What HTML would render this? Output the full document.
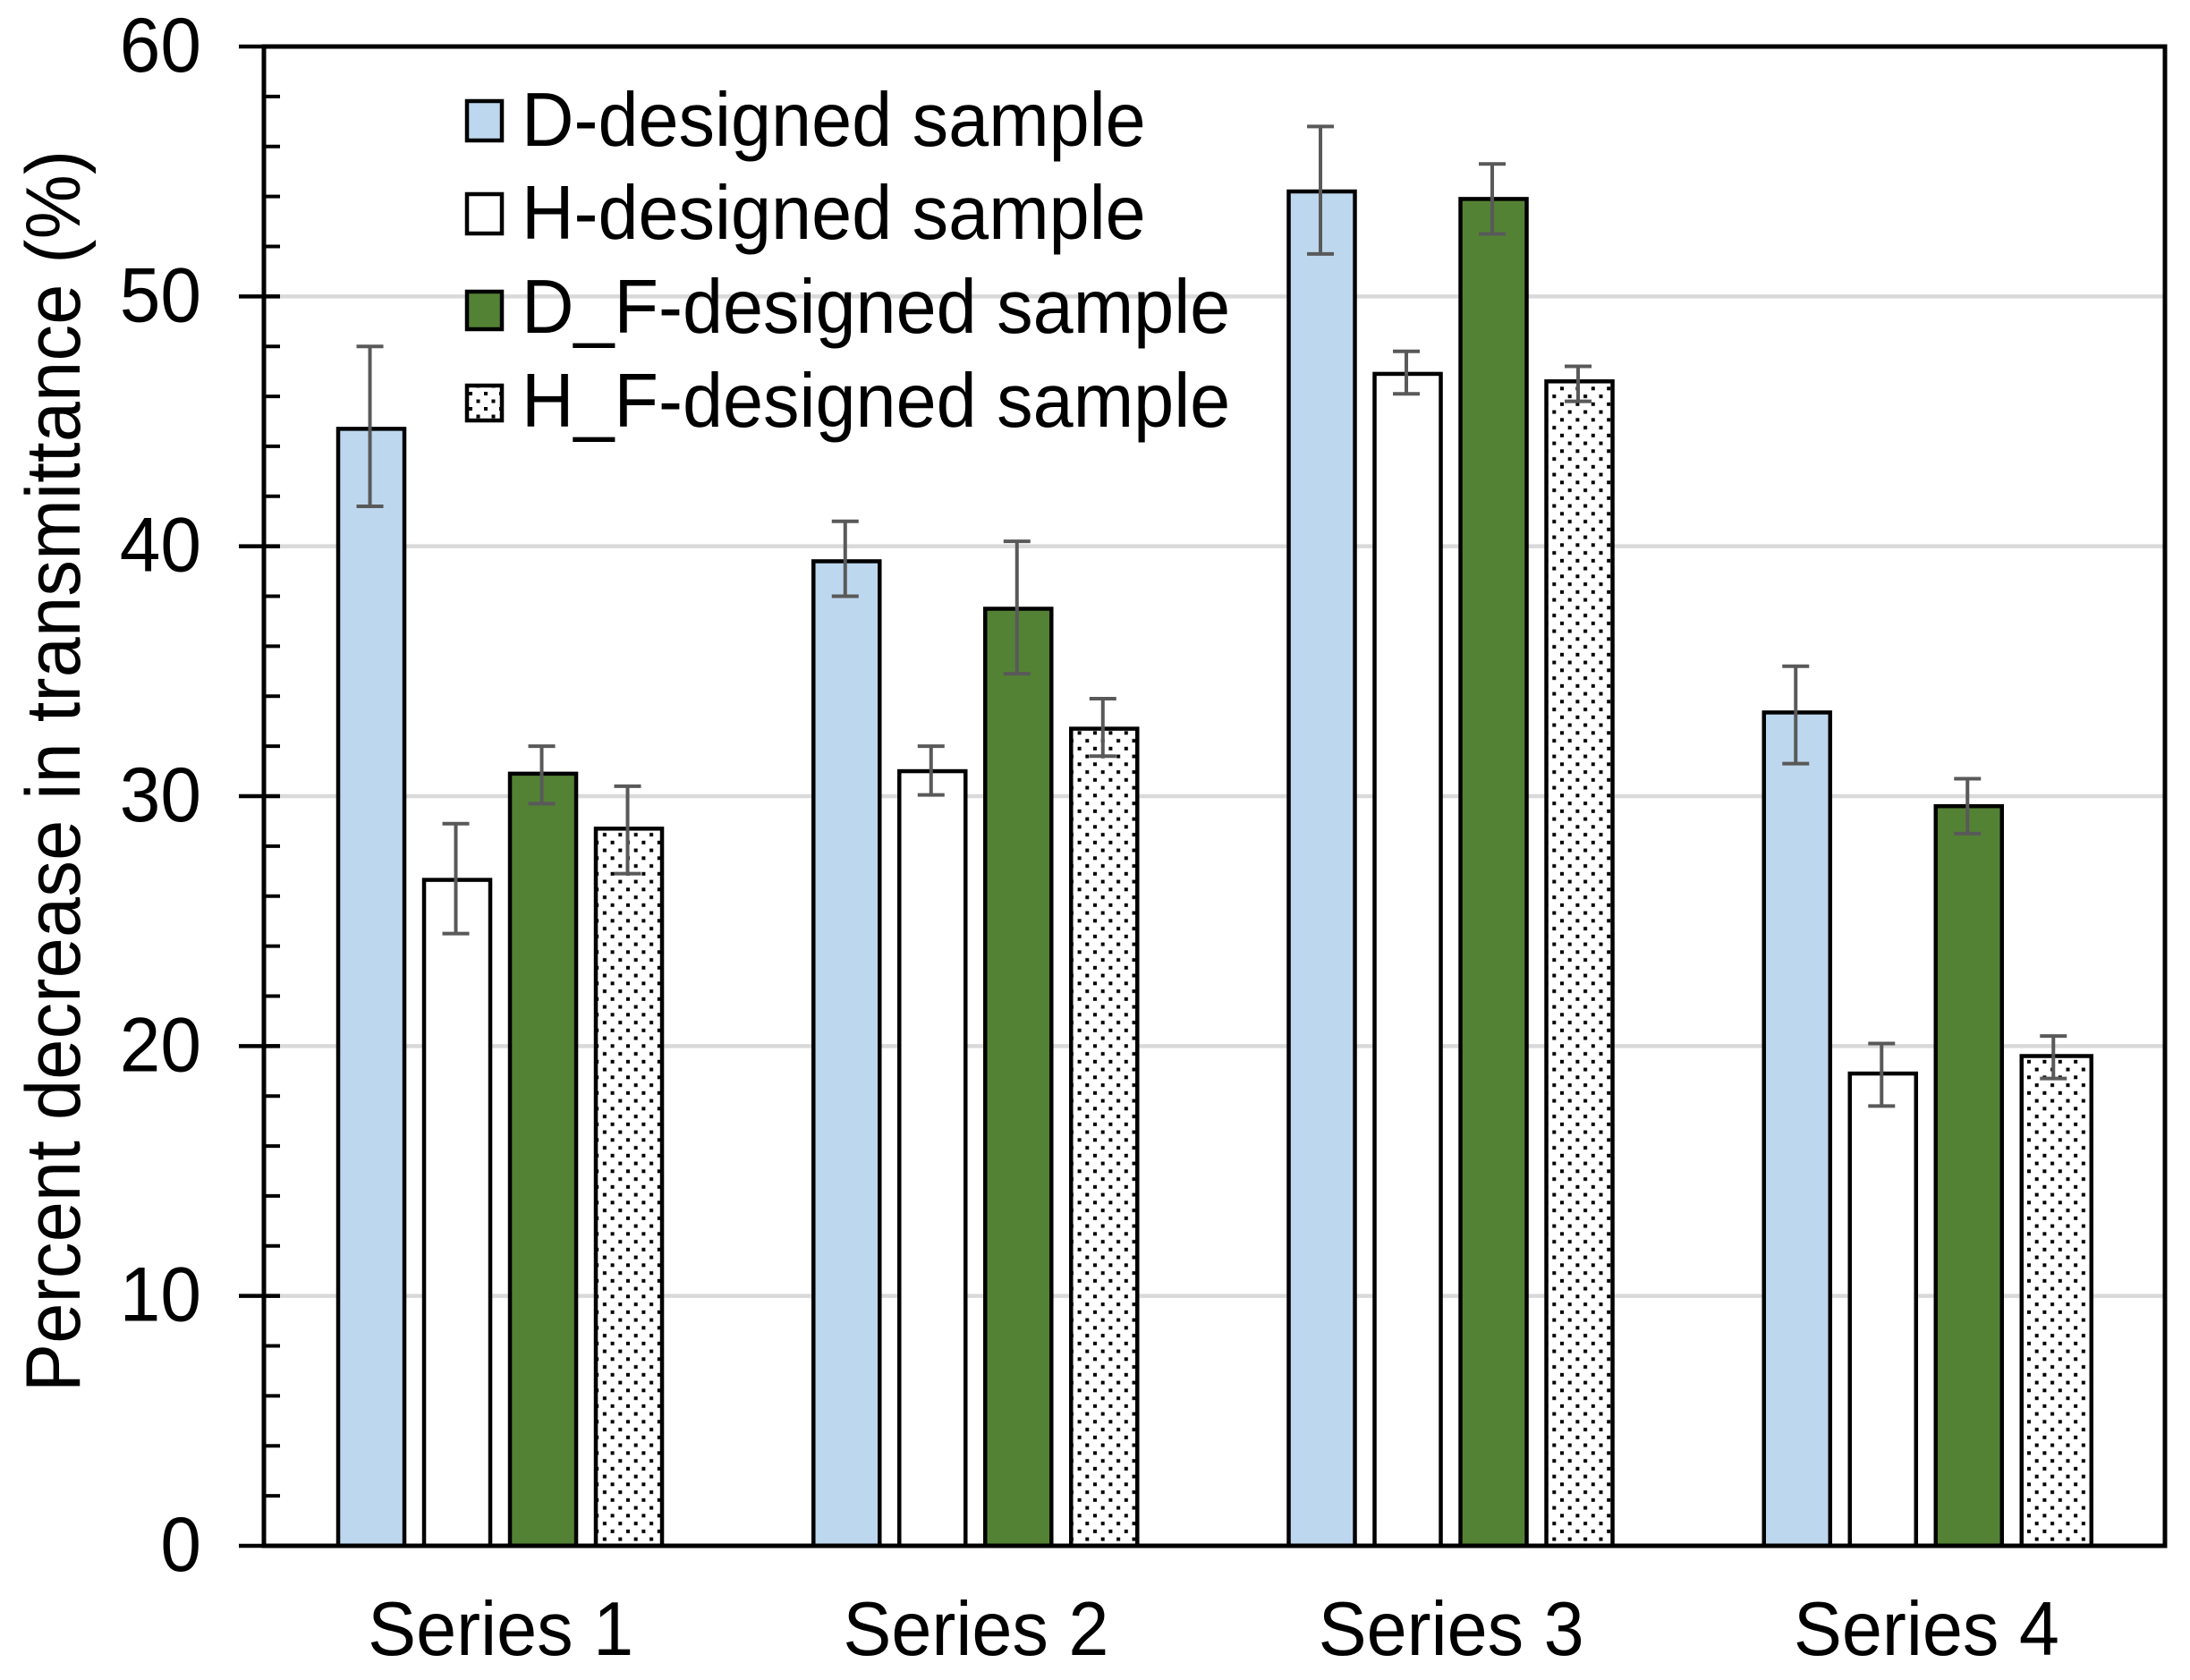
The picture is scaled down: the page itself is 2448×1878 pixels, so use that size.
<!DOCTYPE html>
<html lang="en">
<head>
<meta charset="utf-8">
<title>Percent decrease in transmittance</title>
<style>
html,body{margin:0;padding:0;background:#fff;}
svg{display:block;}
text{font-family:"Liberation Sans",Arial,sans-serif;fill:#000;}
</style>
</head>
<body>
<svg id="chart" xmlns="http://www.w3.org/2000/svg" width="2448" height="1878" viewBox="0 0 2448 1878">
  <defs>
    <pattern id="dots" patternUnits="userSpaceOnUse" x="2266" y="1517.3" width="17.4" height="17.5">
      <rect width="17.4" height="17.5" fill="#fff"/>
      <rect x="0" y="0" width="4" height="4" fill="#000"/>
      <rect x="8.7" y="8.75" width="4" height="4" fill="#000"/>
    </pattern>
    <pattern id="dots-legend" patternUnits="userSpaceOnUse" x="541" y="438" width="17" height="17">
      <rect width="17" height="17" fill="#fff"/>
      <rect x="0" y="0" width="4" height="4" fill="#000"/>
      <rect x="8.5" y="8.5" width="4" height="4" fill="#000"/>
    </pattern>
  </defs>
  <rect x="0" y="0" width="2448" height="1878" fill="#fff"/>
  <g id="grid"></g>
  <g id="bars"></g>
  <g id="errors"></g>
  <g id="axes"></g>
  <g>
    <g>
      <rect x="522" y="113" width="39" height="44" fill="#BDD7EE" stroke="#000" stroke-width="4.5"/>
      <text transform="translate(583,163) scale(1,1.05)" font-size="81">D-designed sample</text>
    </g>
    <g>
      <rect x="522" y="217" width="39" height="44" fill="#fff" stroke="#000" stroke-width="4.5"/>
      <text transform="translate(583,267) scale(1,1.05)" font-size="81">H-designed sample</text>
    </g>
    <g>
      <rect x="522" y="326" width="39" height="42" fill="#548235" stroke="#000" stroke-width="4.5"/>
      <text transform="translate(583,372) scale(1,1.05)" font-size="81">D_F-designed sample</text>
    </g>
    <g>
      <rect x="522" y="431" width="39" height="39" fill="url(#dots-legend)" stroke="#000" stroke-width="4.5"/>
      <text transform="translate(583,477) scale(1,1.05)" font-size="81">H_F-designed sample</text>
    </g>
  </g>
  <text transform="translate(89,1556) rotate(-90) scale(1,1.06)" font-size="81" textLength="1388" lengthAdjust="spacing">Percent decrease in transmittance (%)</text>
</svg>
<script>
// ---- chart data ----
var categories = ['Series 1', 'Series 2', 'Series 3', 'Series 4'];
var yTickLabels = [0, 10, 20, 30, 40, 50, 60];
var yMinorStep = 2;

var dDesigned = [44.7, 39.4, 54.2, 33.35];
var dDesignedHigh = [48.0, 41.0, 56.8, 35.2];
var dDesignedLow = [41.6, 38.0, 51.7, 31.3];

var hDesigned = [26.65, 31.0, 46.9, 18.9];
var hDesignedHigh = [28.9, 32.0, 47.8, 20.1];
var hDesignedLow = [24.5, 30.05, 46.1, 17.6];

var dfDesigned = [30.9, 37.5, 53.9, 29.6];
var dfDesignedHigh = [32.0, 40.2, 55.3, 30.7];
var dfDesignedLow = [29.7, 34.9, 52.5, 28.5];

var hfDesigned = [28.7, 32.7, 46.6, 19.6];
var hfDesignedHigh = [30.4, 33.9, 47.2, 20.4];
var hfDesignedLow = [26.9, 31.6, 45.8, 18.7];

var seriesKeys = ['d-designed', 'h-designed', 'd-f-designed', 'h-f-designed'];
var seriesValues = [dDesigned, hDesigned, dfDesigned, hfDesigned];
var seriesHigh = [dDesignedHigh, hDesignedHigh, dfDesignedHigh, hfDesignedHigh];
var seriesLow = [dDesignedLow, hDesignedLow, dfDesignedLow, hfDesignedLow];

// ---- layout ----
var plotLeft = 295, plotRight = 2420, plotTop = 52, plotBottom = 1728;
var barWidth = 74, barPitch = 96;
var fills = ['#BDD7EE', '#FFFFFF', '#548235', 'url(#dots)'];
var NS = 'http://www.w3.org/2000/svg';

function yScale(v) {
  var lo = yTickLabels[0], hi = yTickLabels[yTickLabels.length - 1];
  return plotBottom - (v - lo) / (hi - lo) * (plotBottom - plotTop);
}
function bandLeft(i) {
  return plotLeft + i * (plotRight - plotLeft) / categories.length;
}
function bandCenter(i) {
  return bandLeft(i) + (plotRight - plotLeft) / categories.length / 2;
}
function barX(i, s) {
  var band = (plotRight - plotLeft) / categories.length;
  var groupWidth = (seriesValues.length - 1) * barPitch + barWidth;
  return bandLeft(i) + (band - groupWidth) / 2 - 1.6 + s * barPitch;
}
function barW(i, s) {
  // the last bar of the last group is slightly wider in the source figure
  return (i === categories.length - 1 && s === seriesValues.length - 1) ? barWidth + 4 : barWidth;
}
function make(tag, attrs, parent) {
  var el = document.createElementNS(NS, tag);
  for (var k in attrs) el.setAttribute(k, attrs[k]);
  parent.appendChild(el);
  return el;
}

var gridG = document.getElementById('grid');
var barsG = document.getElementById('bars');
var errG = document.getElementById('errors');
var axesG = document.getElementById('axes');

// gridlines
yTickLabels.forEach(function (t) {
  if (t === yTickLabels[0] || t === yTickLabels[yTickLabels.length - 1]) return;
  var line = make('line', {x1: plotLeft, x2: plotRight, y1: yScale(t), y2: yScale(t), stroke: '#D9D9D9', 'stroke-width': 4.5}, gridG);
  
  
});

// bars and error bars
categories.forEach(function (cat, i) {
  seriesValues.forEach(function (vals, s) {
    var x = barX(i, s), top = yScale(vals[i]);
    var bar = make('rect', {x: x, y: top, width: barW(i, s), height: plotBottom - top, fill: fills[s], stroke: '#000', 'stroke-width': 4.5}, barsG);
    
    

    var cx = x + barWidth / 2 - 1.5;
    var yHi = yScale(seriesHigh[s][i]), yLo = yScale(seriesLow[s][i]);
    var stem = make('line', {x1: cx, x2: cx, y1: yHi, y2: yLo, stroke: '#595959', 'stroke-width': 4}, errG);
    
    
    var capHi = make('line', {x1: cx - 15, x2: cx + 15, y1: yHi, y2: yHi, stroke: '#595959', 'stroke-width': 4}, errG);
    
    
    var capLo = make('line', {x1: cx - 15, x2: cx + 15, y1: yLo, y2: yLo, stroke: '#595959', 'stroke-width': 4}, errG);
    
    
  });

  var label = make('text', {'text-anchor': 'middle', 'font-size': 81, transform: 'translate(' + (bandCenter(i) - 1) + ',1850) scale(1,1.05)'}, axesG);
  label.textContent = cat;
  
  
});

// minor ticks
for (var v = yTickLabels[0]; v <= yTickLabels[yTickLabels.length - 1]; v += yMinorStep) {
  var minor = make('line', {x1: plotLeft, x2: plotLeft + 18, y1: yScale(v), y2: yScale(v), stroke: '#000', 'stroke-width': 4}, axesG);
  
  
}

// major ticks and labels
yTickLabels.forEach(function (t) {
  var tick = make('line', {x1: 267, x2: plotLeft + 18, y1: yScale(t), y2: yScale(t), stroke: '#000', 'stroke-width': 4.5}, axesG);
  
  
  var lab = make('text', {'text-anchor': 'end', 'font-size': 82, transform: 'translate(225,' + (yScale(t) + 28) + ') scale(1,1.05)'}, axesG);
  lab.textContent = String(t);
  
  
});

// frame
var frame = make('rect', {x: plotLeft, y: plotTop, width: plotRight - plotLeft, height: plotBottom - plotTop, fill: 'none', stroke: '#000', 'stroke-width': 5}, axesG);


</script>
</body>
</html>
